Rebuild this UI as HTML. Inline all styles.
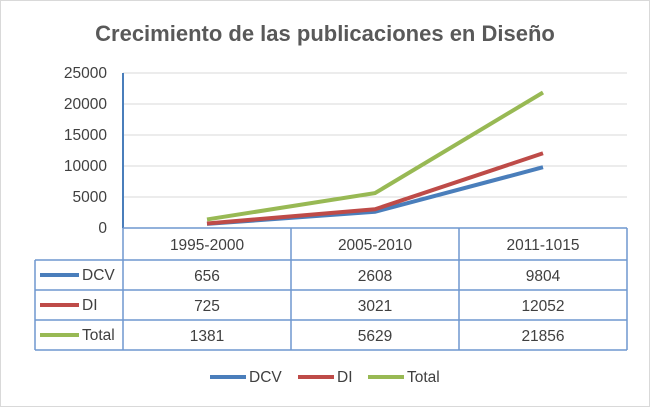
<!DOCTYPE html>
<html><head><meta charset="utf-8"><style>
body{margin:0;background:#fff;}
svg{display:block;font-family:"Liberation Sans",sans-serif;}
</style></head><body>
<svg width="650" height="407">
<rect x="0.5" y="0.5" width="649" height="406" fill="#fff" stroke="#d9d9d9"/>
<text x="325" y="41" text-anchor="middle" font-size="22" font-weight="bold" fill="#595959">Crecimiento de las publicaciones en Diseño</text>
<g id="grid"></g><g id="yt"></g><g id="lines"></g><g id="table"></g>
<g id="legend" font-size="15.5" fill="#404040"></g>
</svg>
<script>
const categories=["1995-2000","2005-2010","2011-1015"];
const seriesNames=["DCV","DI","Total"];
const dcv=[656,2608,9804];
const di=[725,3021,12052];
const total=[1381,5629,21856];
const yTicks=[0,5000,10000,15000,20000,25000];
const colors=["#4a7ebb","#be4b48","#98b954"];
const series=[dcv,di,total];
const NS="http://www.w3.org/2000/svg";
const x0=123,colW=168,yZero=228,yTop=73,yMax=25000;
const FS=15.5;
const y=v=>yZero-(v/yMax)*(yZero-yTop);
const xc=i=>x0+colW*i+colW/2;
function mk(tag,attrs,parent,text){const e=document.createElementNS(NS,tag);for(const k in attrs)e.setAttribute(k,attrs[k]);if(text!==undefined)e.textContent=text;parent.appendChild(e);return e;}
const grid=document.getElementById('grid'),yt=document.getElementById('yt');
yTicks.forEach(t=>{
 if(t>0){const l=mk('line',{x1:x0,x2:627,y1:y(t),y2:y(t),stroke:'#d9d9d9'},grid);
 
 }
 const tx=mk('text',{x:107,y:y(t)+5,'text-anchor':'end','font-size':FS,fill:'#404040'},yt,t);
 
 
});
const ax=mk('line',{x1:x0,x2:x0,y1:yTop,y2:yZero,stroke:'#4a7ebb','stroke-width':2},grid);


const lines=document.getElementById('lines');
series.forEach((s,k)=>{
 const p=mk('polyline',{points:s.map((v,i)=>xc(i)+','+y(v)).join(' '),fill:'none',stroke:colors[k],'stroke-width':4},lines);
 
 
});
const tb=document.getElementById('table');
const st={stroke:'#6f97cf','stroke-width':1.5};
const rowsY=[228,260,290,320,350];
mk('line',Object.assign({x1:x0,x2:627,y1:228,y2:228},st),tb);
[260,290,320,350].forEach(yy=>mk('line',Object.assign({x1:35,x2:627,y1:yy,y2:yy},st),tb));
[123,291,459,627].forEach(xx=>mk('line',Object.assign({x1:xx,x2:xx,y1:228,y2:350},st),tb));
mk('line',Object.assign({x1:35,x2:35,y1:260,y2:350},st),tb);
categories.forEach((c,i)=>{
 const t=mk('text',{x:xc(i),y:250,'text-anchor':'middle','font-size':FS,fill:'#404040'},tb,c);
 
 
});
series.forEach((s,k)=>{
 const ry=rowsY[k+1];
 const ln=mk('line',{x1:40,x2:79,y1:ry+15,y2:ry+15,stroke:colors[k],'stroke-width':4},tb);
 
 
 const nm=mk('text',{x:82,y:ry+20,'font-size':FS,fill:'#404040'},tb,seriesNames[k]);
 
 
 s.forEach((v,i)=>{
  const t=mk('text',{x:xc(i),y:ry+21,'text-anchor':'middle','font-size':FS,fill:'#404040'},tb,v);
  
  
 });
});
const lg=document.getElementById('legend');
const lx=[210,298,368];
seriesNames.forEach((n,k)=>{
 const l=mk('line',{x1:lx[k],x2:lx[k]+36,y1:377,y2:377,stroke:colors[k],'stroke-width':4},lg);
 
 
 const t=mk('text',{x:lx[k]+39,y:382},lg,n);
 
 
});
</script>
</body></html>
